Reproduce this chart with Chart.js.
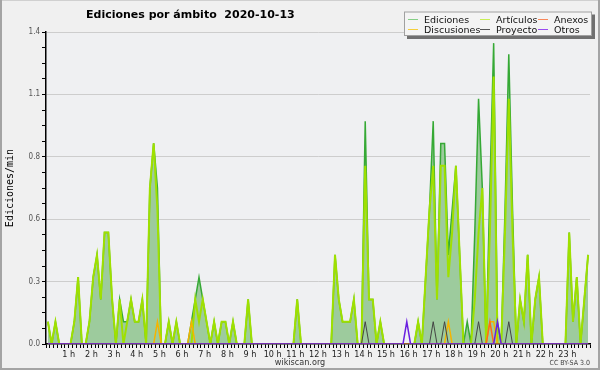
<!DOCTYPE html>
<html>
<head>
<meta charset="utf-8">
<script src="https://cdn.jsdelivr.net/npm/chart.js@4.4.0/dist/chart.umd.min.js"></script>
<style>
  html, body { margin: 0; padding: 0; background: #f0f0f0; }
</style>
</head>
<body>
<canvas id="chart" width="600" height="370"></canvas>
<script>
// edits per minute, one value per 10-minute bin (6 bins per hour, 24 hours)
const ediciones = [
  0.1, 0, 0.1, 0, 0, 0,
  0, 0.1, 0.3, 0, 0, 0.1,
  0.3, 0.4, 0.2, 0.5, 0.5, 0.2,
  0, 0.2, 0.1, 0.1, 0.2, 0.1,
  0.1, 0.2, 0, 0.7, 0.9, 0.7,
  0, 0, 0.1, 0, 0.1, 0,
  0, 0, 0.1, 0.2, 0.3, 0.2,
  0.1, 0, 0.1, 0, 0.1, 0.1,
  0, 0.1, 0, 0, 0, 0.2,
  0, 0, 0, 0, 0, 0,
  0, 0, 0, 0, 0, 0,
  0.2, 0, 0, 0, 0, 0,
  0, 0, 0, 0, 0.4, 0.2,
  0.1, 0.1, 0.1, 0.2, 0, 0,
  1.0, 0.2, 0.2, 0, 0.1, 0,
  0, 0, 0, 0, 0, 0,
  0, 0, 0.1, 0, 0.3, 0.6,
  1.0, 0.2, 0.9, 0.9, 0.4, 0.6,
  0.8, 0.4, 0, 0.1, 0, 0.5,
  1.1, 0.7, 0, 0.7, 1.35, 0.1,
  0, 0.6, 1.3, 0.6, 0, 0.2,
  0.1, 0.4, 0, 0.2, 0.3, 0,
  0, 0, 0, 0, 0, 0,
  0.5, 0.1, 0.3, 0, 0.2, 0.4
];
const articulos = [
  0.1, 0, 0.1, 0, 0, 0,
  0, 0.1, 0.3, 0, 0, 0.1,
  0.3, 0.4, 0.2, 0.5, 0.5, 0.2,
  0, 0.2, 0, 0.1, 0.2, 0.1,
  0.1, 0.2, 0, 0.7, 0.9, 0.6,
  0, 0, 0.1, 0, 0.1, 0,
  0, 0, 0, 0.2, 0.1, 0.2,
  0.1, 0, 0.1, 0, 0.1, 0.1,
  0, 0.1, 0, 0, 0, 0.2,
  0, 0, 0, 0, 0, 0,
  0, 0, 0, 0, 0, 0,
  0.2, 0, 0, 0, 0, 0,
  0, 0, 0, 0, 0.4, 0.2,
  0.1, 0.1, 0.1, 0.2, 0, 0,
  0.8, 0.2, 0.2, 0, 0.1, 0,
  0, 0, 0, 0, 0, 0,
  0, 0, 0.1, 0, 0.3, 0.6,
  0.8, 0.2, 0.8, 0.8, 0.3, 0.5,
  0.8, 0.4, 0, 0, 0, 0.2,
  0.5, 0.7, 0, 0.5, 1.2, 0,
  0, 0.5, 1.1, 0.5, 0, 0.2,
  0.1, 0.4, 0, 0.2, 0.3, 0,
  0, 0, 0, 0, 0, 0,
  0.5, 0.1, 0.3, 0, 0.2, 0.4
];
const anexos = new Array(144).fill(0);
anexos[117] = 0.1;
const discusiones = new Array(144).fill(0);
[29, 38, 106, 117, 118].forEach(i => { discusiones[i] = 0.1; });
const proyecto = new Array(144).fill(0);
[84, 102, 105, 114, 122].forEach(i => { proyecto[i] = 0.1; });
const otros = new Array(144).fill(0);
[95, 119].forEach(i => { otros[i] = 0.1; });

const hourLabels = [];
for (let h = 1; h <= 23; h++) hourLabels.push(h + ' h');

const titleText = 'Ediciones por ámbito  2020-10-13';
const yMax = 1.4;
const yMajor = 0.28;
const yMinor = 0.07;

const legendItems = [
  ['Ediciones', '#86cf86'], ['Artículos', '#c8ee55'], ['Anexos', '#f8875a'],
  ['Discusiones', '#f5cf3c'], ['Proyecto', '#555555'], ['Otros', '#9a4cf0']
];

// bins are drawn at their centre
const toPoints = values => values.map((v, i) => ({ x: i + 0.5, y: v }));
const isMajor = v => Math.abs(v / yMajor - Math.round(v / yMajor)) < 1e-6;

const smallFont = '"DejaVu Sans Condensed", "DejaVu Sans"';

const decor = {
  id: 'decor',
  beforeDraw(chart) {
    const { ctx, chartArea: a, width, height } = chart;
    ctx.save();
    ctx.fillStyle = '#f0f0f0';
    ctx.fillRect(0, 0, width, height);
    ctx.fillStyle = '#eff0f2';
    ctx.fillRect(a.left, a.top, a.right - a.left, a.bottom - a.top);
    ctx.restore();
  },
  afterDraw(chart) {
    const { ctx, width, height } = chart;
    ctx.save();
    ctx.textBaseline = 'alphabetic';

    ctx.font = 'bold 11px "DejaVu Sans"';
    ctx.fillStyle = '#000';
    ctx.textAlign = 'left';
    ctx.fillText(titleText, 86, 18);

    ctx.font = '9px ' + smallFont;
    ctx.fillStyle = '#333';
    ctx.textAlign = 'center';
    ctx.fillText('wikiscan.org', 300, 365);
    ctx.font = '7px ' + smallFont;
    ctx.fillStyle = '#444';
    ctx.textAlign = 'right';
    ctx.fillText('CC BY-SA 3.0', 590, 365);

    // legend box
    const lx = 404, ly = 11.5, lw = 188, lh = 24.5;
    ctx.fillStyle = '#707070';
    ctx.fillRect(lx + 3, ly + 3, lw, lh);
    ctx.fillStyle = '#f4f4f4';
    ctx.fillRect(lx, ly, lw, lh);
    ctx.strokeStyle = '#a0a0a0';
    ctx.lineWidth = 1;
    ctx.strokeRect(lx + 0.5, ly + 0.5, lw - 1, lh - 1);
    const colX = [408, 480, 538];
    const rowY = [19.5, 29.5];
    ctx.font = '9.5px "DejaVu Sans"';
    ctx.textAlign = 'left';
    legendItems.forEach(([name, color], k) => {
      const cx = colX[k % 3], cy = rowY[Math.floor(k / 3)];
      ctx.strokeStyle = color;
      ctx.beginPath();
      ctx.moveTo(cx, cy);
      ctx.lineTo(cx + 10, cy);
      ctx.stroke();
      ctx.fillStyle = '#111';
      ctx.fillText(name, cx + 16, cy + 3.5);
    });

    // outer frame: darker on the left, right and bottom
    ctx.strokeStyle = '#d0d0d0';
    ctx.lineWidth = 1;
    ctx.beginPath();
    ctx.moveTo(0, 0.5);
    ctx.lineTo(width, 0.5);
    ctx.stroke();
    ctx.strokeStyle = '#a4a4a4';
    ctx.lineWidth = 2;
    ctx.beginPath();
    ctx.moveTo(1, 0);
    ctx.lineTo(1, height - 1);
    ctx.lineTo(width - 1, height - 1);
    ctx.lineTo(width - 1, 0);
    ctx.stroke();
    ctx.restore();
  }
};

const line = (label, values, color, width, order, extra) => Object.assign({
  label: label,
  data: toPoints(values),
  borderColor: color,
  borderWidth: width,
  pointRadius: 0,
  tension: 0,
  fill: false,
  order: order
}, extra || {});

new Chart(document.getElementById('chart'), {
  type: 'line',
  data: {
    datasets: [
      line('Ediciones', ediciones, '#35a935', 1.5, 10, { fill: 'origin', backgroundColor: '#9dcb9d' }),
      line('Artículos', articulos, '#9fe000', 2, 9),
      line('Anexos', anexos, '#ff6a1a', 1.5, 4),
      line('Discusiones', discusiones, '#f5b400', 1.5, 5),
      line('Proyecto', proyecto, '#444444', 1, 3),
      line('Otros', otros, '#6a1fe0', 1.5, 2)
    ]
  },
  options: {
    responsive: false,
    animation: false,
    events: [],
    layout: { padding: { top: 32, right: 10, bottom: 0, left: 0 } },
    plugins: { legend: { display: false }, title: { display: false }, tooltip: { enabled: false } },
    scales: {
      x: {
        type: 'linear',
        min: 0,
        max: 144,
        z: 1,
        afterFit: s => { s.height = 26; },
        border: { color: '#000', width: 1.5 },
        grid: { drawOnChartArea: false, tickLength: 4, tickColor: '#000' },
        ticks: {
          stepSize: 1,
          autoSkip: false,
          maxRotation: 0,
          minRotation: 0,
          padding: 1,
          color: '#222',
          font: { family: smallFont, size: 9 },
          callback: v => (v % 6 === 0 && v > 0 && v < 144) ? hourLabels[v / 6 - 1] : ''
        }
      },
      y: {
        min: 0,
        max: yMax,
        afterFit: s => { s.width = 46; },
        border: { color: '#000', width: 1.5 },
        title: { display: true, text: 'Ediciones/min', color: '#000', font: { family: '"DejaVu Sans Mono"', size: 10 } },
        grid: {
          color: c => (c.tick && c.tick.value > 0 && isMajor(c.tick.value)) ? '#cdcdcd' : 'rgba(0,0,0,0)',
          tickLength: 4,
          tickColor: '#000'
        },
        ticks: {
          stepSize: yMinor,
          autoSkip: false,
          padding: 2,
          color: '#555',
          font: { family: smallFont, size: 8 },
          callback: v => isMajor(v) ? v.toFixed(1) : ''
        }
      }
    }
  },
  plugins: [decor]
});
</script>
</body>
</html>
